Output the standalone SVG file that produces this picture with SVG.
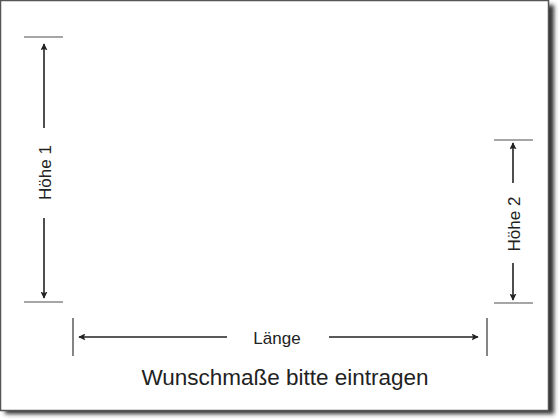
<svg xmlns="http://www.w3.org/2000/svg" width="560" height="420" viewBox="0 0 560 420">
<defs>
<filter id="sh" x="-5%" y="-5%" width="115%" height="115%"><feGaussianBlur stdDeviation="2"/></filter>
<marker id="ah" viewBox="0 0 10 10" refX="9" refY="5" markerWidth="7" markerHeight="7" markerUnits="userSpaceOnUse" orient="auto"><path d="M0,0 L10,5 L0,10 L2,5 z" fill="#222"/></marker>
</defs>
<style>
.tick{stroke:#888;stroke-width:1.3}
.vtick{stroke:#333;stroke-width:1.2}
.arr{stroke:#222;stroke-width:1.6;fill:none;marker-end:url(#ah)}
.lbl{font-family:'Liberation Sans',Arial,sans-serif;font-size:17px;fill:#222}
.main{font-family:'Liberation Sans',Arial,sans-serif;font-size:22.5px;fill:#222}
</style>
<rect width="560" height="420" fill="#fff"/>
<rect x="5" y="5" width="549" height="409" fill="#333" filter="url(#sh)"/>
<rect x="0.5" y="0.5" width="548" height="410" fill="#fff" stroke="#555" stroke-width="1.5"/>
<g id="connectors">
<line class="tick" x1="24" y1="37" x2="63" y2="37"/>
<line class="tick" x1="24" y1="302" x2="63" y2="302"/>
<line class="arr" x1="44" y1="128" x2="44" y2="44"/>
<line class="arr" x1="44" y1="218" x2="44" y2="298"/>
<line class="tick" x1="494" y1="140" x2="533" y2="140"/>
<line class="tick" x1="494" y1="303" x2="533" y2="303"/>
<line class="arr" x1="513" y1="183" x2="513" y2="143"/>
<line class="arr" x1="513" y1="263" x2="513" y2="300"/>
<line class="vtick" x1="73" y1="318" x2="73" y2="356"/>
<line class="vtick" x1="487" y1="318" x2="487" y2="356"/>
<line class="arr" x1="227" y1="337" x2="79" y2="337"/>
<line class="arr" x1="329" y1="337" x2="478" y2="337"/>
</g>
<g id="hoehe1"><text class="lbl" transform="translate(51,172.5) rotate(-90)" text-anchor="middle">Höhe 1</text></g>
<g id="hoehe2"><text class="lbl" transform="translate(520,224) rotate(-90)" text-anchor="middle">Höhe 2</text></g>
<g id="laenge"><text class="lbl" x="277" y="344" text-anchor="middle">Länge</text></g>
<g id="title"><text class="main" x="285" y="385" text-anchor="middle">Wunschmaße bitte eintragen</text></g>
</svg>
